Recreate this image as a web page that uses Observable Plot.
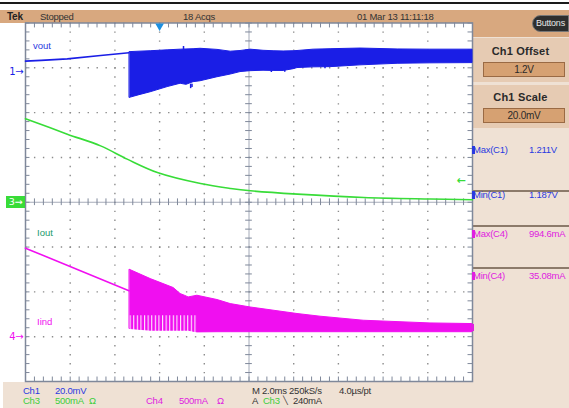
<!DOCTYPE html>
<html><head><meta charset="utf-8">
<script src="https://cdn.jsdelivr.net/npm/d3@7"></script>
<script src="https://cdn.jsdelivr.net/npm/@observablehq/plot@0.6"></script>
<style>
body{margin:0;background:#fff;}
#wrap{position:relative;width:569px;height:408px;overflow:hidden;background:#fff;font-family:"Liberation Sans",Arial,sans-serif;font-size:9.5px;letter-spacing:-0.25px;}
.a{position:absolute;white-space:nowrap;line-height:12px;}
.bg{position:absolute;}
.ttl{font-weight:bold;font-size:11px;letter-spacing:0.2px;text-align:center;width:97px;left:472px;color:#2a2a2a;}
.box{position:absolute;left:483px;width:82px;height:15px;background:#d6a172;border:1px solid #9a6a44;box-sizing:border-box;text-align:center;line-height:13px;font-size:10px;color:#2a2a2a;}
</style></head><body>
<div id="wrap">
 <div class="bg" style="left:0;top:2px;width:569px;height:2px;background:#1a1a1a"></div>
 <div class="bg" style="left:0;top:10px;width:569px;height:12.5px;background:#d8a87f"></div>
 <div class="bg" style="left:472px;top:10px;width:97px;height:27px;background:#d8a87f"></div>
 <div class="bg" style="left:472px;top:37px;width:97px;height:371px;background:#efe1d4"></div>
 <div class="bg" style="left:3px;top:382px;width:566px;height:26px;background:#efe1d4"></div>
 <div class="bg" style="left:473px;top:38px;width:96px;height:44px;background:#e6cbb3"></div>
 <div class="bg" style="left:473px;top:85px;width:96px;height:43px;background:#e6cbb3"></div>
 <div class="bg" style="left:473px;top:190px;width:96px;height:1.5px;background:#8c7a6a"></div>
 <div class="bg" style="left:473px;top:225px;width:96px;height:1.5px;background:#8c7a6a"></div>
 <div class="bg" style="left:473px;top:267px;width:96px;height:1.5px;background:#8c7a6a"></div>
 <div id="chart" style="position:absolute;left:0;top:0"></div>
 <div id="overlay"></div>
</div>
<script>
// ---- channel settings (from the scope readout) ----
const ch1Offset = 1.2, ch1Scale = 0.02, ch1Pos = 2.91;      // V, V/div, div
const ch3Scale = 500, ch3Pos = 0;                              // mA/div, div
const ch4Scale = 500, ch4Pos = -3;                             // mA/div, div
const triggerLevel = 240;                                      // mA on Ch3
const timeDomain = [-6, 14];                                   // ms (2.0 ms/div)

// ---- Ch1 vout (V) ----
const voutLineT = [-6.0, -5.3, -4.13, -2.64, -1.37];
const voutLineV = [1.2048, 1.2051, 1.2058, 1.2073, 1.2085];
const voutBandT  = [-1.33, -0.90, -0.40, 0.36, 0.94, 1.20, 1.52, 1.83, 2.59, 3.18, 3.62, 4.07, 4.65, 5.10, 5.55, 6.00, 6.17, 6.89, 7.65, 8.99, 10.65, 12.12, 14.0];
const voutBandLo = [1.1884, 1.1896, 1.1909, 1.1932, 1.1947, 1.1942, 1.1954, 1.1958, 1.1976, 1.1988, 1.1999, 1.2003, 1.2005, 1.2004, 1.2004, 1.2012, 1.2017, 1.2020, 1.2021, 1.2029, 1.2036, 1.2038, 1.2039];
const voutBandHi = [1.2088, 1.2090, 1.2092, 1.2096, 1.2099, 1.2100, 1.2101, 1.2103, 1.2098, 1.2090, 1.2093, 1.2099, 1.2094, 1.2092, 1.2091, 1.2092, 1.2093, 1.2099, 1.2101, 1.2104, 1.2100, 1.2099, 1.2099];
const voutSpikeT  = [1.07, 1.39, 1.45, 5.0, 5.6, 7.4];
const voutSpikeLo = [1.2096, 1.1925, 1.1930, 1.1997, 1.1998, 1.2014];
const voutSpikeHi = [1.2113, 1.1945, 1.1945, 1.2005, 1.2006, 1.2024];

// ---- Ch3 Iout (mA) ----
const ioutT = [-6.0, -4.13, -2.64, -1.45, -0.10, 1.83, 3.18, 4.07, 6.17, 9.13, 12.12, 14.0];
const ioutV = [933, 760, 629, 481, 332, 209, 154, 128, 91, 53, 36, 28];

// ---- Ch4 Iind (mA) ----
const iindLineT = [-6.0, -1.37];
const iindLineV = [988, 512];
const iindBandT  = [-1.33, -0.40, 0.63, 0.94, 1.15, 1.30, 1.69, 2.59, 3.18, 4.07, 6.17, 7.20, 9.13, 12.12, 14.0];
const iindBandHi = [746, 643, 543, 476, 455, 438, 457, 409, 364, 326, 253, 223, 178, 148, 141];
const iindBandLo = [86, 67, 67, 67, 67, 67, 48, 50, 50, 50, 50, 50, 50, 50, 50];
const iindCombT  = [-1.33, 1.69];
const iindCombHi = [234, 234];

const BLUE = "#1a1ee6", GREEN = "#38dc38", MAG = "#f00ff0";
const d1 = v => ch1Pos + (v - ch1Offset) / ch1Scale;
const d3c = v => ch3Pos + v / ch3Scale;
const d4 = v => ch4Pos + v / ch4Scale;

const rows = (T, ...cols) => T.map((t, i) => Object.fromEntries([["t", t], ...cols.map(([k, a]) => [k, a[i]])]));
const voutLine = rows(voutLineT, ["v", voutLineV]);
const voutBand = rows(voutBandT, ["lo", voutBandLo], ["hi", voutBandHi]);
const voutSpikes = rows(voutSpikeT, ["lo", voutSpikeLo], ["hi", voutSpikeHi]);
const iout = rows(ioutT, ["v", ioutV]);
const iindLine = rows(iindLineT, ["v", iindLineV]);
const iindBand = rows(iindBandT, ["lo", iindBandLo], ["hi", iindBandHi]);
const iindComb = rows(iindCombT, ["hi", iindCombHi]);

// graticule
const majorT = [-6, -4, -2, 0, 2, 4, 6, 8, 10, 12, 14];
const majorY = [-4, -3, -2, -1, 0, 1, 2, 3, 4];
const minorT = d3.range(-6, 14.001, 0.4);
const minorY = d3.range(-4, 4.001, 0.2);
const GRID = "#7f889a", DOT = "#8c8c8c";
const dotX = majorT.filter(t => t !== -6 && t !== 14 && t !== 4);
const dotY = majorY.filter(y => Math.abs(y) !== 4 && y !== 0);

const plot = Plot.plot({
  width: 569, height: 408,
  marginLeft: 25, marginRight: 97, marginTop: 22.5, marginBottom: 27,
  x: {domain: timeDomain, axis: null},
  y: {domain: [-4, 4], axis: null},
  style: {background: "transparent", overflow: "visible"},
  marks: [
    Plot.ruleX(dotX, {stroke: DOT, strokeWidth: 1.4, strokeDasharray: "1.4,7.56"}),
    Plot.ruleY(dotY, {stroke: DOT, strokeWidth: 1.4, strokeDasharray: "1.4,7.54"}),
    Plot.ruleX([4], {stroke: GRID, strokeWidth: 1, strokeOpacity: 0.7}),
    Plot.ruleY([0], {stroke: GRID, strokeWidth: 1, strokeOpacity: 0.7}),
    Plot.ruleX(minorT, {y1: -0.075, y2: 0.075, stroke: GRID}),
    Plot.ruleY(minorY, {x1: 3.85, x2: 4.15, stroke: GRID}),
    Plot.ruleX(minorT, {y1: 4, y2: 3.89, stroke: GRID}),
    Plot.ruleX(minorT, {y1: -4, y2: -3.9, stroke: GRID}),
    Plot.ruleY(minorY, {x1: -6, x2: -5.8, stroke: GRID}),
    Plot.ruleY(minorY, {x1: 14, x2: 13.8, stroke: GRID}),
    Plot.frame({stroke: GRID, strokeWidth: 1.5}),
    // Ch3 Iout
    Plot.line(iout, {x: "t", y: d => d3c(d.v), stroke: GREEN, strokeWidth: 1.6, curve: "catmull-rom"}),
    // Ch1 vout
    Plot.line(voutLine, {x: "t", y: d => d1(d.v), stroke: BLUE, strokeWidth: 1.6}),
    Plot.areaY(voutBand, {x: "t", y1: d => d1(d.lo), y2: d => d1(d.hi), fill: BLUE, stroke: BLUE, strokeWidth: 1}),
    Plot.ruleX(voutSpikes, {x: "t", y1: d => d1(d.lo), y2: d => d1(d.hi), stroke: BLUE, strokeWidth: 1.5}),
    // Ch4 Iind
    Plot.line(iindLine, {x: "t", y: d => d4(d.v), stroke: MAG, strokeWidth: 1.6}),
    Plot.areaY(iindBand, {x: "t", y1: d => d4(d.lo), y2: d => d4(d.hi), fill: MAG, stroke: MAG, strokeWidth: 1}),
    Plot.areaY(iindComb, {x: "t", y1: d => d4(0), y2: d => d4(d.hi), fill: "url(#combW)"}),
    // channel ground markers
    Plot.text([ch1Pos], {y: d => d, frameAnchor: "left", dx: -2, text: () => "1\u2192", textAnchor: "end", fill: BLUE, fontSize: 10, fontFamily: "DejaVu Sans"}),
    Plot.text([ch4Pos], {y: d => d, frameAnchor: "left", dx: -2, text: () => "4\u2192", textAnchor: "end", fill: MAG, fontSize: 10, fontFamily: "DejaVu Sans"}),
    // trigger level arrow & position
    Plot.text([triggerLevel], {y: d => d3c(d), frameAnchor: "right", dx: -7, text: () => "\u2190", fill: GREEN, fontSize: 11, fontWeight: "bold", fontFamily: "DejaVu Sans"}),
    Plot.dot([0], {x: d => d, frameAnchor: "top", dy: 3, symbol: "triangle", rotate: 180, r: 3.2, fill: "#1c8fe0", stroke: "none"})
  ]
});
document.getElementById("chart").appendChild(plot);
d3.select(plot).insert("defs", ":first-child").html(
  '<pattern id="combW" width="3.6" height="20" patternUnits="userSpaceOnUse"><rect x="0" width="1.1" height="20" fill="#fff" fill-opacity="0.9"/></pattern>');

const ys = plot.scale("y");
const ov = document.getElementById("overlay");
function add(html, style) { const el = document.createElement("div"); el.className = "a"; el.innerHTML = html; el.style.cssText += style; ov.appendChild(el); return el; }
const cy = v => `top:${v - 6}px;`;
// ch3 marker box
const y3 = ys.apply(ch3Pos);
add("3\u2192", `left:6px;top:${y3 - 6}px;width:19px;height:12px;background:${GREEN};color:#fff;text-align:center;font-family:'DejaVu Sans';`);
// graticule labels
add("vout", `left:33px;${cy(46)}color:#2a3ae0;letter-spacing:0;`);
add("Iout", `left:37px;${cy(233)}color:#1a9a6c;letter-spacing:0;`);
add("Iind", `left:37px;${cy(322)}color:${MAG};letter-spacing:0;`);
// top bar
add("<b>Tek</b>", `left:7px;${cy(16.5)}color:#222;font-size:10px;`);
add("Stopped", `left:40px;${cy(16.5)}color:#333;`);
add("18 Acqs", `left:183px;${cy(16.5)}color:#333;`);
add("01 Mar 13 11:11:18", `left:357px;${cy(16.5)}color:#333;`);
add("Buttons", `left:532px;top:15px;width:37px;height:17px;line-height:15px;background:#2e2e2e;color:#e8e8e8;border-radius:9px 0 0 9px;text-align:center;font-size:9px;border:1px solid #777;box-sizing:border-box;`);
// right panel
add("Ch1 Offset", `${cy(51)}`).className = "a ttl";
add("Ch1 Scale", `${cy(97)}`).className = "a ttl";
const b1 = document.createElement("div"); b1.className = "box"; b1.style.top = "62px"; b1.textContent = "1.2V"; ov.appendChild(b1);
const b2 = document.createElement("div"); b2.className = "box"; b2.style.top = "108px"; b2.textContent = "20.0mV"; ov.appendChild(b2);
const meas = [["Max(C1)", "1.211V", 150, "#2a3ae0"], ["Min(C1)", "1.187V", 195, "#2a3ae0"], ["Max(C4)", "994.6mA", 234, "#e020e0"], ["Min(C4)", "35.08mA", 276, "#e020e0"]];
for (const [k, v, y, c] of meas) {
  add(k, `left:473px;${cy(y)}color:${c};`);
  add(v, `left:529px;${cy(y)}color:${c};`);
  add("", `left:472px;top:${y - 4}px;width:3px;height:8px;background:${c};`);
}
add("", `left:471px;top:324px;width:3px;height:7px;background:#e020e0;`);
// bottom readout
add("Ch1", `left:23px;${cy(391)}color:#2a3ae0;`);
add("20.0mV", `left:55px;${cy(391)}color:#2a3ae0;`);
add("Ch3", `left:23px;${cy(401)}color:#3ccf3c;`);
add("500mA", `left:55px;${cy(401)}color:#3ccf3c;`);
add("\u03a9", `left:89px;${cy(401)}color:#3ccf3c;`);
add("Ch4", `left:146px;${cy(401)}color:#e020e0;`);
add("500mA", `left:179px;${cy(401)}color:#e020e0;`);
add("\u03a9", `left:217px;${cy(401)}color:#e020e0;`);
add("M 2.0ms 250kS/s", `left:252px;${cy(391)}color:#333;`);
add("4.0\u00b5s/pt", `left:339px;${cy(391)}color:#333;`);
add("A", `left:252px;${cy(401)}color:#333;`);
add("Ch3", `left:263px;${cy(401)}color:#3ccf3c;`);
add("\u2572", `left:283px;${cy(401)}color:#333;font-size:8px;`);
add("240mA", `left:293px;${cy(401)}color:#333;`);
</script>
</body></html>
